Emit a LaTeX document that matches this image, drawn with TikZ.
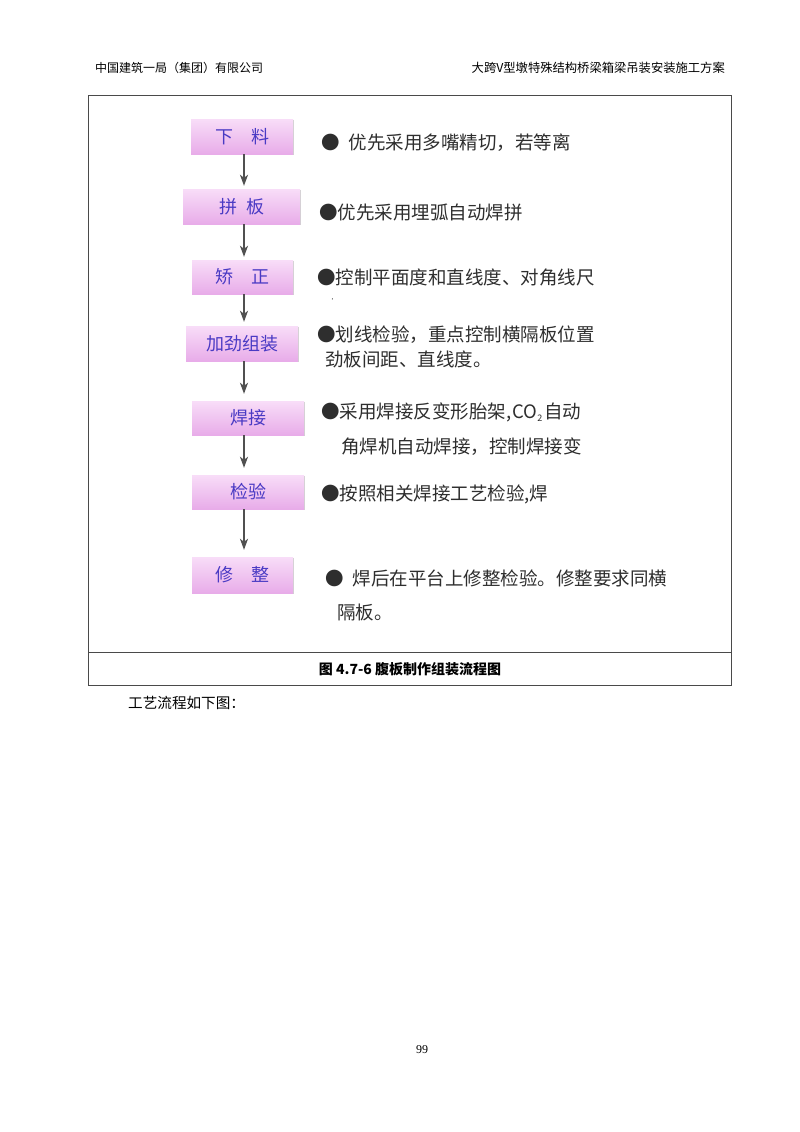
\documentclass[tikz,border=0pt]{standalone}
\usepackage{fontspec}
\setmainfont{Noto Sans CJK SC}
\newfontfamily\numfont{Liberation Serif}
\usetikzlibrary{shadows,arrows.meta}
\definecolor{pinktop}{HTML}{F8DDF8}
\definecolor{pinkbot}{HTML}{E8ACE9}
\definecolor{boxblue}{HTML}{4A3AC4}
\definecolor{notegray}{HTML}{2E2E2E}
\definecolor{framegray}{HTML}{4A4A4A}
\definecolor{arrowgray}{HTML}{505050}
\tikzset{
  stepbox/.style={top color=pinktop, bottom color=pinkbot, text=boxblue, inner sep=0pt,
    font=\fontsize{18}{20}\selectfont,
    drop shadow={shadow xshift=1.2pt, shadow yshift=-1.2pt, opacity=0.35, fill=gray}},
  note/.style={anchor=west, inner sep=0pt, text=notegray, font=\fontsize{18.5}{22}\selectfont},
  flow/.style={-{Stealth[length=11pt, width=8pt, inset=3pt]}, line width=1.5pt, draw=arrowgray, fill=arrowgray},
}
\begin{document}
\begin{tikzpicture}[x=1pt, y=-1pt]
  \useasboundingbox[fill=white] (0,0) rectangle (800,1132);
  % page head
  \node (headl) [anchor=west, inner sep=0pt, font=\fontsize{12}{14}\selectfont] at (95,68) {中国建筑一局（集团）有限公司};
  \node (headr) [anchor=east, inner sep=0pt, font=\fontsize{12.3}{14}\selectfont] at (725,68) {大跨V型墩特殊结构桥梁箱梁吊装安装施工方案};
  % frame
  \draw[framegray, line width=1pt] (88,95) rectangle (731,685);
  \draw[framegray, line width=1pt] (88,652) -- (731,652);
  % steps
  \node (xl) [stepbox, minimum width=102pt, minimum height=35pt] at (242,136.5) {下\quad 料};
  \node (pb) [stepbox, minimum width=117pt, minimum height=35pt] at (241.5,206.5) {拼\enspace 板};
  \node (jz) [stepbox, minimum width=101pt, minimum height=34pt] at (242.5,277) {矫\quad 正};
  \node (jj) [stepbox, minimum width=112pt, minimum height=35pt] at (242,343.5) {加劲组装};
  \node (hj) [stepbox, minimum width=112pt, minimum height=34pt] at (248,418) {焊接};
  \node (jy) [stepbox, minimum width=112pt, minimum height=34pt] at (248,492) {检验};
  \node (xz) [stepbox, minimum width=101pt, minimum height=36pt] at (242.5,575) {修\quad 整};
  % arrows
  \draw[flow, shorten >=3pt] ([xshift=2pt]xl.south) -- ([xshift=2pt]xl.south |- pb.north);
  \draw[flow, shorten >=3pt] ([xshift=2.5pt]pb.south) -- ([xshift=2.5pt]pb.south |- jz.north);
  \draw[flow, shorten >=4pt] ([xshift=1.5pt]jz.south) -- ([xshift=1.5pt]jz.south |- jj.north);
  \draw[flow, shorten >=7pt] ([xshift=2pt]jj.south) -- ([xshift=2pt]jj.south |- hj.north);
  \draw[flow, shorten >=7pt] ([xshift=-4pt]hj.south) -- ([xshift=-4pt]hj.south |- jy.north);
  \draw[flow, shorten >=7pt] ([xshift=-4pt]jy.south) -- ([xshift=-4pt]jy.south |- xz.north);
  % notes
  \node (n1) [note] at (321,143) {●\hspace{9pt}优先采用多嘴精切，若等离};
  \node (n2) [note] at (319,212) {●优先采用埋弧自动焊拼};
  \node (n3) [note] at (317,277) {●控制平面度和直线度、对角线尺};
  \node (n3b) [inner sep=0pt, text=notegray, font=\fontsize{7}{7}\selectfont] at (335,302) {'};
  \node (n4) [note] at (317,335) {●划线检验，重点控制横隔板位置};
  \node (n4b) [note] at (325,359) {劲板间距、直线度。};
  \node (n5) [note] at (321,412) {●采用焊接反变形胎架,\hspace{1pt}CO{\fontsize{9}{9}\selectfont\raisebox{-3pt}{2}}\hspace{2pt}自动};
  \node (n5b) [note] at (341,447) {角焊机自动焊接，控制焊接变};
  \node (n6) [note] at (321,494) {●按照相关焊接工艺检验,焊};
  \node (n7) [note] at (325,578) {●\hspace{9pt}焊后在平台上修整检验。修整要求同横};
  \node (n7b) [note] at (337,612) {隔板。};
  % caption and text below
  \node (cap) [font=\fontsize{14}{16}\selectfont\bfseries] at (410,669) {图 4.7-6 腹板制作组装流程图};
  \node (body) [anchor=west, inner sep=0pt, font=\fontsize{14.6}{16}\selectfont] at (128,703) {工艺流程如下图：};
  \node (page) [font=\numfont\fontsize{12}{14}\selectfont] at (422,1050) {99};
\end{tikzpicture}
\end{document}
